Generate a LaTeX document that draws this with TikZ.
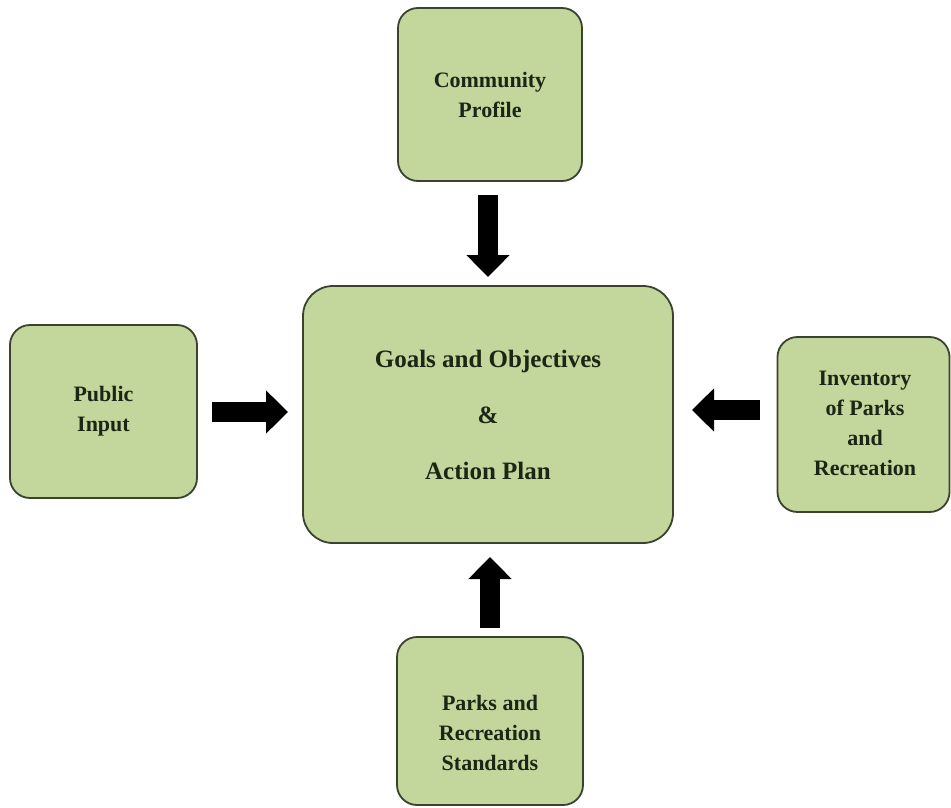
\documentclass[tikz,border=0pt]{standalone}
\usepackage{fontspec}
\setmainfont{Liberation Serif}
\usetikzlibrary{arrows.meta}
\definecolor{boxfill}{HTML}{C3D69B}
\definecolor{boxdraw}{HTML}{3A4330}
\definecolor{boxtext}{HTML}{1C2614}
\tikzset{
  box/.style={draw=boxdraw, line width=1.8pt, fill=boxfill, rounded corners=20pt,
    inner sep=0pt, align=center, text=boxtext,
    font=\bfseries\fontsize{22}{30}\selectfont},
  bigbox/.style={box, rounded corners=30pt, font=\bfseries\fontsize{25}{56}\selectfont},
  txt/.style={inner sep=0pt, align=center, text=boxtext, font=\bfseries\fontsize{22}{30}\selectfont},
  fatarrow/.style={line width=20pt, black, -{Triangle[width=42pt,length=22pt]}}
}
\begin{document}
\begin{tikzpicture}[x=1pt,y=-1pt]
\useasboundingbox (0,0) rectangle (951,808);
\node[bigbox, minimum width=370, minimum height=257] (goals) at (488,414.5)
  {Goals and Objectives\\\&\\Action Plan};
\node[box, minimum width=184, minimum height=173] (comm) at (490,94.5) {Community\\Profile};
\node[box, minimum width=187, minimum height=173] (pub) at (103.5,411.5) {Public\\Input};
\node[box, minimum width=172, minimum height=175] (inv) at (863.5,424.5) {};
\node[txt] (invtext) at (865,423) {Inventory\\of Parks\\and\\Recreation};
\node[box, minimum width=186, minimum height=168] (std) at (490,721) {};
\node[txt] (stdtext) at (490,733) {Parks and\\Recreation\\Standards};
\coordinate (a1s) at (488,195); \coordinate (a1e) at (488,277);
\coordinate (a2s) at (212,412); \coordinate (a2e) at (288,412);
\coordinate (a3s) at (760,410); \coordinate (a3e) at (692,410);
\coordinate (a4s) at (490,628); \coordinate (a4e) at (490,557);
\draw[fatarrow] (a1s) -- (a1e);
\draw[fatarrow] (a2s) -- (a2e);
\draw[fatarrow] (a3s) -- (a3e);
\draw[fatarrow] (a4s) -- (a4e);
\end{tikzpicture}
\end{document}
